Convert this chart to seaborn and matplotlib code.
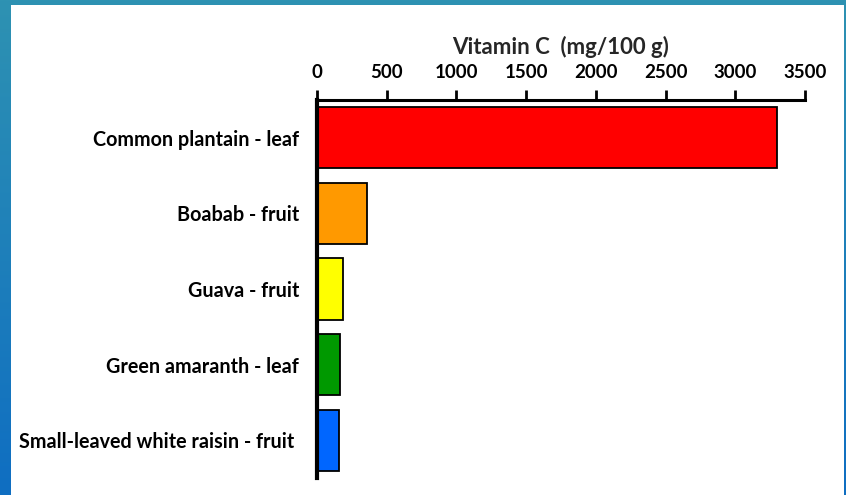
import matplotlib
matplotlib.use('Agg')
import matplotlib.pyplot as plt
import seaborn as sns
import numpy as np
import pandas as pd
from matplotlib.patches import Rectangle

# Veriler
bitkiler = ['Common plantain - leaf', 'Boabab - fruit', 'Guava - fruit',
            'Green amaranth - leaf', 'Small-leaved white raisin - fruit ']
vitamin_c = [3300, 360, 183, 165, 158]
renkler = ['#ff0000', '#ff9900', '#ffff00', '#009900', '#0066ff']
x_ticks = [0, 500, 1000, 1500, 2000, 2500, 3000, 3500]

df = pd.DataFrame({'bitki': bitkiler, 'vitc': vitamin_c})

sns.set_style('white')
plt.rcParams['font.family'] = ['Lato', 'DejaVu Sans']

fig = plt.figure(figsize=(8.46, 4.95), dpi=100)

# arka plan: mavi gradyan kenar + beyaz panel
bg = fig.add_axes([0, 0, 1, 1], zorder=-10)
grad = np.linspace(0, 1, 256).reshape(-1, 1)
cmap = matplotlib.colors.LinearSegmentedColormap.from_list('kenar', ['#2e92b2', '#0f6ec2'])
bg.imshow(grad, aspect='auto', cmap=cmap, extent=[0, 1, 0, 1], origin='upper')
bg.add_patch(Rectangle((11 / 846, 0), (844 - 11) / 846, 1 - 5 / 495,
                       facecolor='white', edgecolor='none'))
bg.set_xlim(0, 1)
bg.set_ylim(0, 1)
bg.axis('off')

ax = fig.add_axes([317 / 846, 1 - 478 / 495, (805 - 317) / 846, (478 - 100) / 495])
ax.patch.set_alpha(0)
sns.barplot(data=df, x='vitc', y='bitki', hue='bitki', palette=renkler, legend=False,
            orient='h', width=0.81, saturation=1, edgecolor='black', linewidth=1.3, ax=ax)

ax.set_xlim(0, 3500)
ax.set_ylim(4.5, -0.5)
ax.set_xticks(x_ticks)
ax.xaxis.tick_top()
ax.xaxis.set_label_position('top')
ax.tick_params(axis='x', direction='out', length=7, width=2, color='black',
               labelsize=13.5, pad=7)
ax.tick_params(axis='y', length=0, labelsize=14.2, pad=13)
for lab in ax.get_xticklabels() + ax.get_yticklabels():
    lab.set_fontweight('bold')
    lab.set_color('black')

ax.set_xlabel('Vitamin C  (mg/100 g)', fontsize=16, fontweight='bold', labelpad=7)
ax.set_ylabel('')

for s in ['right', 'bottom']:
    ax.spines[s].set_visible(False)
ax.spines['top'].set_linewidth(2.2)
ax.spines['left'].set_linewidth(3)
ax.spines['top'].set_color('black')
ax.spines['left'].set_color('black')

plt.savefig('out.png', dpi=100)
